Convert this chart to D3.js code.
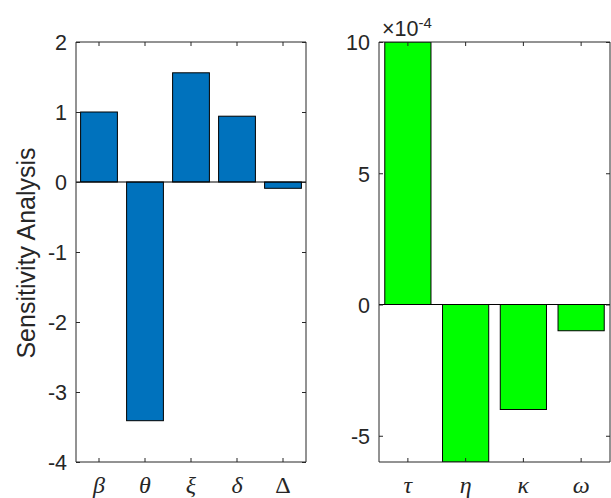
<!DOCTYPE html>
<html>
<head>
<meta charset="utf-8">
<script src="https://cdn.jsdelivr.net/npm/d3@7"></script>
<style>
  html, body { margin: 0; padding: 0; background: #fff; }
  svg { display: block; }
  .tick-label { font-family: "Liberation Sans", Arial, Helvetica, sans-serif; font-size: 21.5px; fill: #262626; }
  .cat-label { font-family: "Liberation Serif", "DejaVu Serif", serif; font-size: 24px; fill: #262626; }
</style>
</head>
<body>
<svg id="chart" width="611" height="498"></svg>
<script>
// Sensitivity indices, first group of parameters
const leftCategories = ["β", "θ", "ξ", "δ", "Δ"];
const leftValues = [1.0, -3.41, 1.56, 0.94, -0.09];
const leftTicks = [-4, -3, -2, -1, 0, 1, 2];

// Sensitivity indices, second group of parameters (order 1e-4)
const rightCategories = ["τ", "η", "κ", "ω"];
const rightValues = [10e-4, -6e-4, -4e-4, -1e-4];
const rightTicks = [-5e-4, 0, 5e-4, 10e-4];

const svg = d3.select("#chart");
const axisColor = "#262626";

function drawPanel(opts) {
  const { x0, x1, y0, y1, categories, values, domain, ticks, fill, fmt, italicTest, id } = opts;
  const g = svg.append("g");

  const x = d3.scaleBand().domain(categories).range([x0, x1]).paddingInner(0.2).paddingOuter(0.1);
  const y = d3.scaleLinear().domain(domain).range([y1, y0]);

  // clip region for bars
  svg.append("clipPath").attr("id", id)
    .append("rect").attr("x", x0).attr("y", y0).attr("width", x1 - x0).attr("height", y1 - y0);

  const bars = g.append("g").attr("clip-path", `url(#${id})`);
  bars.selectAll("rect").data(values).enter().append("rect")
    .attr("x", (d, i) => x(categories[i]))
    .attr("width", x.bandwidth())
    .attr("y", d => y(Math.max(0, d)))
    .attr("height", d => Math.abs(y(d) - y(0)))
    .attr("fill", fill)
    .attr("stroke", "#000")
    .attr("stroke-width", 1);

  // baseline across the axes
  g.append("line")
    .attr("x1", x0).attr("x2", x1)
    .attr("y1", y(0)).attr("y2", y(0))
    .attr("stroke", "#000").attr("stroke-width", 1);

  const tickLen = 4;
  // left y axis with labels
  const yAxisL = d3.axisLeft(y).tickValues(ticks).tickSize(-tickLen).tickPadding(9).tickFormat(fmt);
  const gl = g.append("g").attr("transform", `translate(${x0},0)`).call(yAxisL);
  // right y axis (ticks only)
  const yAxisR = d3.axisRight(y).tickValues(ticks).tickSize(-tickLen).tickFormat("");
  const gr = g.append("g").attr("transform", `translate(${x1},0)`).call(yAxisR);
  // bottom x axis with category labels
  const xAxisB = d3.axisBottom(x).tickSize(-tickLen).tickPadding(31);
  const gb = g.append("g").attr("transform", `translate(0,${y1})`).call(xAxisB);
  // top x axis (ticks only)
  const xAxisT = d3.axisTop(x).tickSize(-tickLen).tickFormat("");
  const gt = g.append("g").attr("transform", `translate(0,${y0})`).call(xAxisT);

  [gl, gr, gb, gt].forEach(a => {
    a.select(".domain").attr("stroke", axisColor).attr("stroke-width", 1);
    a.selectAll(".tick line").attr("stroke", axisColor).attr("stroke-width", 1);
    a.attr("font-size", null).attr("font-family", null);
  });
  gl.selectAll(".tick text").attr("class", "tick-label").attr("dy", "0.36em");
  gb.selectAll(".tick text").attr("class", "cat-label")
    .attr("dy", 0)
    .style("font-style", d => italicTest(d) ? "italic" : "normal");

  // square the domain ends (no outer tick stubs)
  [gl, gr].forEach(a => a.select(".domain").attr("d", `M0,${y0}V${y1}`));
  [gb, gt].forEach(a => a.select(".domain").attr("d", `M${x0},0H${x1}`));

  return { x, y };
}

drawPanel({
  id: "clipL", x0: 76, x1: 306, y0: 42, y1: 462,
  categories: leftCategories, values: leftValues,
  domain: [-4, 2], ticks: leftTicks, fill: "#0072BD",
  fmt: d => d3.format("d")(d).replace("−", "-"),
  italicTest: d => d !== "Δ"
});

drawPanel({
  id: "clipR", x0: 379, x1: 610, y0: 42, y1: 462,
  categories: rightCategories, values: rightValues,
  domain: [-6e-4, 10e-4], ticks: rightTicks, fill: "#00FF00",
  fmt: d => String(Math.round(d * 1e4)),
  italicTest: () => true
});

// exponent marker for the second panel
const expo = svg.append("text").attr("class", "tick-label").attr("x", 382).attr("y", 36);
expo.append("tspan").text("×10");
expo.append("tspan").attr("dy", -8).style("font-size", "15px").text("-4");

// y-axis title
svg.append("text")
  .attr("class", "tick-label")
  .style("font-size", "25px")
  .attr("text-anchor", "middle")
  .attr("transform", "translate(35,253) rotate(-90)")
  .text("Sensitivity Analysis");
</script>
</body>
</html>
